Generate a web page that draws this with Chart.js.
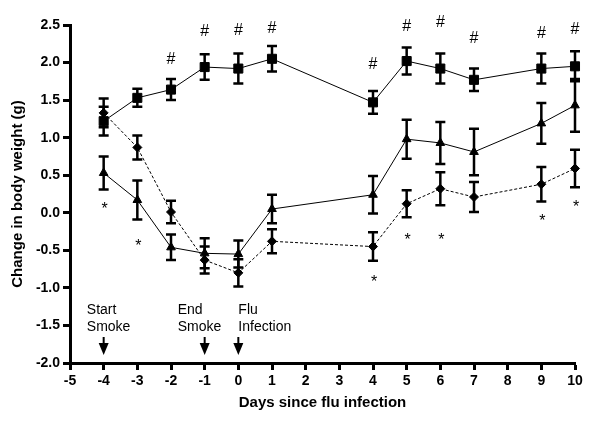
<!DOCTYPE html>
<html>
<head>
<meta charset="utf-8">
<script src="https://cdn.jsdelivr.net/npm/chart.js@4"></script>
<style>
  html, body { margin: 0; padding: 0; background: #fff; }
</style>
</head>
<body>
<canvas id="weightChart" width="600" height="423"></canvas>
<script>
// Days since flu infection
const days = [-4, -3, -2, -1, 0, 1, 4, 5, 6, 7, 9, 10];

// Series means (g) and SEM
const squareMean   = [1.22, 1.53, 1.64, 1.94, 1.92, 2.05, 1.47, 2.02, 1.92, 1.77, 1.92, 1.95];
const squareErr    = [0.19, 0.12, 0.14, 0.17, 0.20, 0.17, 0.15, 0.18, 0.20, 0.15, 0.20, 0.20];
const triangleMean = [0.53, 0.17, -0.46, -0.54, -0.55, 0.05, 0.24, 0.98, 0.93, 0.81, 1.19, 1.43];
const triangleErr  = [0.22, 0.26, 0.17, 0.20, 0.18, 0.19, 0.25, 0.26, 0.28, 0.31, 0.27, 0.35];
const diamondMean  = [1.33, 0.87, 0.01, -0.63, -0.80, -0.38, -0.45, 0.12, 0.32, 0.21, 0.38, 0.59];
const diamondErr   = [0.19, 0.16, 0.15, 0.18, 0.18, 0.16, 0.19, 0.18, 0.22, 0.20, 0.23, 0.25];

// Significance marks
const hashDays = [-2, -1, 0, 1, 4, 5, 6, 7, 9, 10];
const hashY    = [2.04, 2.41, 2.42, 2.45, 1.97, 2.48, 2.53, 2.32, 2.38, 2.44];
const starDays = [-4, -3, 4, 5, 6, 9, 10];
const starY    = [0.08, -0.41, -0.89, -0.33, -0.33, -0.08, 0.11];

// Event labels (arrow day, text start day)
const events = [
  { day: -4, textDay: -4.5, lines: ['Start', 'Smoke'] },
  { day: -1, textDay: -1.8, lines: ['End', 'Smoke'] },
  { day: 0, textDay: 0, lines: ['Flu', 'Infection'] },
];

const yTicks = [-2.0, -1.5, -1.0, -0.5, 0.0, 0.5, 1.0, 1.5, 2.0, 2.5];

function toPoints(ys) {
  return days.map((d, i) => ({ x: d, y: ys[i] }));
}

// error bars + annotations
const extrasPlugin = {
  id: 'extras',
  afterDatasetsDraw(chart) {
    const ctx = chart.ctx;
    const xs = chart.scales.x, ys = chart.scales.y;
    ctx.save();
    ctx.strokeStyle = '#000';
    ctx.lineWidth = 2.5;
    [[squareMean, squareErr], [triangleMean, triangleErr], [diamondMean, diamondErr]].forEach(([m, e]) => {
      days.forEach((d, i) => {
        const px = xs.getPixelForValue(d);
        const top = ys.getPixelForValue(m[i] + e[i]);
        const bot = ys.getPixelForValue(m[i] - e[i]);
        ctx.beginPath();
        ctx.moveTo(px, top); ctx.lineTo(px, bot);
        ctx.moveTo(px - 5, top); ctx.lineTo(px + 5, top);
        ctx.moveTo(px - 5, bot); ctx.lineTo(px + 5, bot);
        ctx.stroke();
      });
    });

    ctx.fillStyle = '#000';
    ctx.textAlign = 'center';
    ctx.textBaseline = 'middle';
    ctx.font = '16px "Liberation Sans", Arial, sans-serif';
    hashDays.forEach((d, i) => {
      ctx.fillText('#', xs.getPixelForValue(d), ys.getPixelForValue(hashY[i]));
    });
    ctx.font = '16px "Liberation Sans", Arial, sans-serif';
    starDays.forEach((d, i) => {
      ctx.fillText('*', xs.getPixelForValue(d) + 1, ys.getPixelForValue(starY[i]) + 3);
    });

    // event labels and arrows
    ctx.font = '14px "Liberation Sans", Arial, sans-serif';
    ctx.textAlign = 'left';
    ctx.textBaseline = 'alphabetic';
    const base = chart.chartArea.bottom;
    events.forEach(ev => {
      const tx = xs.getPixelForValue(ev.textDay);
      ctx.fillText(ev.lines[0], tx, base - 49);
      ctx.fillText(ev.lines[1], tx, base - 32);
      const ax = xs.getPixelForValue(ev.day);
      ctx.lineWidth = 2;
      ctx.beginPath();
      ctx.moveTo(ax, base - 26); ctx.lineTo(ax, base - 16);
      ctx.stroke();
      ctx.beginPath();
      ctx.moveTo(ax - 5, base - 20);
      ctx.lineTo(ax + 5, base - 20);
      ctx.lineTo(ax, base - 8);
      ctx.closePath();
      ctx.fill();
    });
    ctx.restore();
  }
};

function loadChart() {
  const ctx = document.getElementById('weightChart').getContext('2d');
  const common = {
    borderColor: '#000',
    backgroundColor: '#000',
    pointBackgroundColor: '#000',
    pointBorderColor: '#000',
    borderWidth: 1,
    fill: false,
    tension: 0,
    clip: false,
  };
  new Chart(ctx, {
    type: 'line',
    data: {
      datasets: [
        { ...common, label: 'Square', data: toPoints(squareMean), pointStyle: 'rect', pointRadius: 6.4 },
        { ...common, label: 'Triangle', data: toPoints(triangleMean), pointStyle: 'triangle', pointRadius: 5 },
        { ...common, label: 'Diamond', data: toPoints(diamondMean), pointStyle: 'rectRot', pointRadius: 4.5, borderDash: [3, 2] },
      ]
    },
    options: {
      responsive: false,
      animation: false,
      layout: { padding: { top: 25, right: 25, left: 0, bottom: 0 } },
      plugins: { legend: { display: false }, tooltip: { enabled: false } },
      scales: {
        x: {
          type: 'linear',
          min: -5,
          max: 10,
          afterFit: s => { s.height = 60; },
          ticks: {
            stepSize: 1,
            color: '#000',
            padding: 3,
            font: { family: '"Liberation Sans", Arial', size: 14, weight: 'bold' },
          },
          grid: { drawOnChartArea: false, tickLength: 7, tickWidth: 3, tickColor: '#000' },
          border: { display: true, color: '#000', width: 3 },
          title: {
            display: true,
            text: 'Days since flu infection',
            color: '#000',
            padding: { top: 0, bottom: 11 },
            font: { family: '"Liberation Sans", Arial', size: 15, weight: 'bold' },
          }
        },
        y: {
          min: -2,
          max: 2.5,
          afterFit: s => { s.width = 70; },
          afterBuildTicks: s => { s.ticks = yTicks.map(v => ({ value: v })); },
          ticks: {
            color: '#000',
            padding: 3,
            callback: v => v.toFixed(1),
            font: { family: '"Liberation Sans", Arial', size: 14, weight: 'bold' },
          },
          grid: { drawOnChartArea: false, tickLength: 7, tickWidth: 3, tickColor: '#000' },
          border: { display: true, color: '#000', width: 3 },
          title: {
            display: true,
            text: 'Change in body weight (g)',
            color: '#000',
            padding: { top: 9, bottom: 0 },
            font: { family: '"Liberation Sans", Arial', size: 15, weight: 'bold' },
          }
        }
      }
    },
    plugins: [extrasPlugin]
  });
}

document.addEventListener('DOMContentLoaded', loadChart);
</script>
</body>
</html>
